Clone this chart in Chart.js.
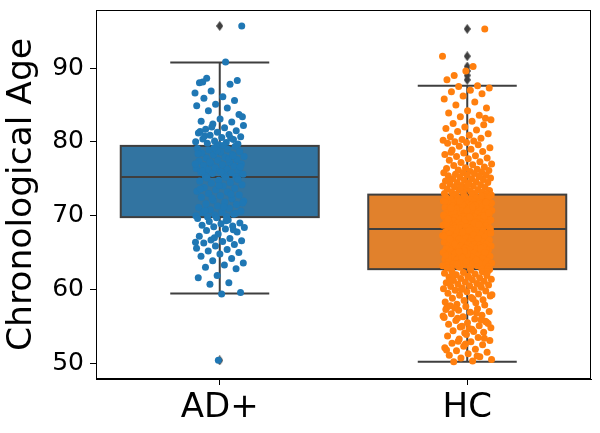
<!DOCTYPE html>
<html>
<head>
<meta charset="utf-8">
<script src="https://cdn.jsdelivr.net/npm/chart.js@4.4.1/dist/chart.umd.min.js"></script>
<style>
  html, body { margin: 0; padding: 0; background: #fff; }
  #wrap { width: 600px; height: 433px; }
</style>
</head>
<body>
<div id="wrap"><canvas id="myChart" width="600" height="433"></canvas></div>
<script>
'use strict';

var categories = ['AD+', 'HC'];
var yTicks = [50, 60, 70, 80, 90];

// box stats
var q1 = [69.8, 62.75];
var median = [75.25, 68.2];
var q3 = [79.45, 72.85];
var whiskerLow = [59.45, 50.2];
var whiskerHigh = [90.75, 87.6];
var adFliers = [95.7, 50.4];
var hcFliers = [95.3, 91.6, 90.2, 89.6, 89.0, 88.4];

// individual ages (strip points)
var adValues = [
  86.6, 90.8, 88.6, 88.3, 50.4, 88.0, 87.8, 86.9, 95.7, 86.1, 85.9, 85.6, 85.1, 84.9, 84.6,
  84.2, 83.7, 83.1, 82.8, 82.7, 82.4, 82.2, 81.9, 81.7, 81.5, 81.3, 81.2, 81.0, 80.9, 80.7,
  80.6, 80.4, 80.3, 80.1, 80.0, 79.9, 79.8, 79.7, 79.6, 81.4, 80.5, 82.0, 83.4, 79.5, 80.8,
  79.4, 79.3, 79.1, 79.0, 78.9, 78.7, 78.6, 78.5, 78.3, 78.2, 78.0, 77.9, 77.8, 77.6, 77.5,
  77.4, 77.2, 77.1, 77.0, 76.9, 76.8, 76.7, 76.5, 76.4, 76.3, 76.2, 76.1, 76.0, 75.9, 75.8,
  75.7, 75.6, 75.5, 75.4, 75.3, 78.8, 78.4, 77.7, 77.3, 76.6, 75.9, 76.0, 78.1, 79.2, 77.0,
  75.2, 75.1, 75.0, 74.8, 74.7, 74.5, 74.4, 74.2, 74.0, 73.8, 73.7, 73.5, 73.3, 73.2, 73.0,
  72.8, 72.7, 72.5, 72.3, 72.1, 72.0, 71.8, 71.6, 71.5, 71.3, 71.1, 71.0, 70.8, 70.6, 70.5,
  70.4, 70.2, 70.1, 70.0, 69.9, 69.8, 74.9, 74.1, 73.6, 72.9, 72.4, 71.7, 71.2, 70.7, 70.3,
  69.7, 69.6, 69.4, 69.2, 69.0, 68.9, 68.7, 68.6, 68.5, 68.4, 68.2, 68.0, 67.8, 67.5, 67.2,
  66.9, 66.7, 66.6, 66.5, 66.3, 66.1, 65.9, 65.6, 65.4, 65.2, 65.0, 64.8, 64.5, 64.2, 63.9,
  63.6, 63.3, 63.0, 62.8, 61.9, 61.6, 60.9, 60.7, 59.6, 59.4, 88.1, 68.1, 67.0, 66.4, 69.3
];

var hcValues = [
  91.6, 90.2, 89.0, 95.3, 89.6, 88.4,
  87.6, 87.5, 87.3, 87.0, 86.8, 86.5, 86.2, 85.8, 85.4, 85.0, 84.6, 84.2,
  83.9, 83.6, 83.4, 83.0, 82.8, 82.5, 82.3, 82.0, 81.8, 81.6, 81.4, 81.1, 80.9, 80.7, 80.5,
  80.3, 80.2, 80.1, 80.0, 83.2,
  79.9, 79.8, 79.6, 79.4, 79.2, 79.0, 78.9, 78.7, 78.5, 78.3, 78.1, 78.0, 77.8, 77.7, 77.5,
  77.3, 77.2, 77.0, 76.9, 76.8, 76.6, 76.5, 76.4, 76.3, 76.2, 76.1, 76.0, 78.6,
  75.9, 75.8, 75.8, 75.7, 75.6, 75.5, 75.5, 75.4, 75.3, 75.2, 75.1, 75.0, 75.0, 74.9, 74.8,
  74.7, 74.6, 74.5, 74.5, 74.4, 74.3, 74.2, 74.1, 74.0, 74.0, 73.9, 73.8, 73.7, 73.6, 73.5,
  73.5, 73.4, 73.3, 73.2, 73.2, 73.1, 73.0, 73.0, 72.9, 72.9, 74.2, 74.7, 75.3, 73.8,
  72.8, 72.8, 72.7, 72.6, 72.6, 72.5, 72.4, 72.4, 72.3, 72.2,
  72.2, 72.1, 72.0, 72.0, 71.9, 71.8, 71.8, 71.7, 71.6, 71.6,
  71.5, 71.5, 71.4, 71.3, 71.3, 71.2, 71.1, 71.1, 71.0, 71.0,
  70.9, 70.8, 70.8, 70.7, 70.7, 70.6, 70.5, 70.5, 70.4, 70.4,
  70.3, 70.2, 70.2, 70.1, 70.1, 70.0, 69.9, 69.9, 69.8, 69.8,
  69.7, 69.7, 69.6, 69.5, 69.5, 69.4, 69.4, 69.3, 69.3, 69.2,
  69.1, 69.1, 69.0, 69.0, 68.9, 68.9, 68.8, 68.8, 68.7, 68.7,
  68.6, 68.6, 68.5, 68.5, 68.4, 68.4, 68.3, 68.3, 68.2, 68.2,
  72.5, 71.9, 71.4, 70.9, 70.3, 69.6, 69.2, 68.6, 72.1, 71.7,
  71.2, 70.6, 70.0, 69.4, 68.9, 68.4, 72.3, 70.4, 69.8, 71.0,
  72.7, 71.5, 70.1, 69.0, 68.3, 71.8, 70.7, 69.5, 68.8, 72.0,
  68.1, 68.1, 68.0, 67.9, 67.9, 67.8, 67.7, 67.7, 67.6, 67.5,
  67.5, 67.4, 67.3, 67.3, 67.2, 67.1, 67.1, 67.0, 66.9, 66.9,
  66.8, 66.7, 66.7, 66.6, 66.5, 66.5, 66.4, 66.3, 66.3, 66.2,
  66.1, 66.1, 66.0, 65.9, 65.9, 65.8, 65.7, 65.7, 65.6, 65.5,
  65.5, 65.4, 65.3, 65.3, 65.2, 65.1, 65.1, 65.0, 64.9, 64.9,
  64.8, 64.7, 64.7, 64.6, 64.5, 64.5, 64.4, 64.3, 64.3, 64.2,
  64.1, 64.1, 64.0, 63.9, 63.9, 63.8, 63.7, 63.7, 63.6, 63.5,
  63.5, 63.4, 63.3, 63.3, 63.2, 63.1, 63.1, 63.0, 62.9, 62.8,
  67.8, 67.2, 66.6, 66.0, 65.4, 64.8, 64.2, 63.6, 63.0, 67.6,
  67.0, 66.4, 65.8, 65.2, 64.6, 64.0, 63.4, 62.8, 68.0, 66.8,
  65.6, 64.4, 63.2, 67.4, 66.2, 65.0, 63.8, 62.9, 66.9, 65.1,
  62.7, 62.6, 62.5, 62.4, 62.3, 62.2, 62.1, 62.0, 61.9, 61.8,
  61.7, 61.6, 61.5, 61.4, 61.3, 61.2, 61.1, 61.0, 60.9, 60.8,
  60.7, 60.6, 60.5, 60.4, 60.3, 60.2, 60.1, 60.0, 59.9, 59.8,
  59.7, 59.5, 59.4, 59.2, 59.1, 58.9, 58.8, 58.6, 58.5, 58.3,
  58.2, 58.0, 62.4, 61.7, 61.1, 60.6, 60.0, 59.3, 58.7, 62.0,
  57.9, 57.7, 57.6, 57.4, 57.2, 57.0, 56.9, 56.7, 56.5, 56.3,
  56.2, 56.0, 55.8, 55.6, 55.5, 55.3, 55.1, 54.9, 54.8, 54.6,
  54.4, 54.2, 54.1, 57.3, 56.8, 56.1, 55.4, 54.7, 57.8, 55.9,
  55.0, 56.4, 54.3, 57.5, 55.7,
  53.9, 53.7, 53.5, 53.3, 53.1, 52.9, 52.7, 52.5, 52.3, 52.1,
  51.9, 51.7, 51.5, 51.3, 51.1, 50.9, 50.7, 50.5, 50.3, 50.2,
  53.4, 52.6, 51.8, 51.0, 53.0
];

var boxColors = ['#3274a1', '#e1812c'];
var pointColors = ['#1f77b4', '#ff7f0e'];
var lineColor = '#3f3f3f';

// spread points sideways (deterministic, +-0.1 category width)
function strip(values, pos) {
  return values.map(function(v, i) {
    var j = ((i * 0.6180339887) % 1 - 0.5) * 0.2;
    return { x: pos + j, y: v };
  });
}
function center(values, pos) {
  return values.map(function(v) { return { x: pos, y: v }; });
}

// thin diamond like matplotlib 'd'
var diamond = document.createElement('canvas');
diamond.width = 7;
diamond.height = 10;
(function() {
  var c = diamond.getContext('2d');
  c.fillStyle = lineColor;
  c.beginPath();
  c.moveTo(3.5, 0);
  c.lineTo(7, 5);
  c.lineTo(3.5, 10);
  c.lineTo(0, 5);
  c.closePath();
  c.fill();
})();

var boxPlugin = {
  id: 'boxes',
  beforeDatasetsDraw: function(chart) {
    var ctx = chart.ctx, xs = chart.scales.x, ys = chart.scales.y;
    var area = chart.chartArea;
    ctx.save();
    ctx.beginPath();
    ctx.rect(area.left, area.top, area.right - area.left, area.bottom - area.top);
    ctx.clip();
    ctx.lineWidth = 2;
    ctx.strokeStyle = lineColor;
    for (var i = 0; i < categories.length; i++) {
      var l = xs.getPixelForValue(i - 0.4), r = xs.getPixelForValue(i + 0.4);
      var c = xs.getPixelForValue(i);
      var cl = xs.getPixelForValue(i - 0.2), cr = xs.getPixelForValue(i + 0.2);
      var top = ys.getPixelForValue(q3[i]), bot = ys.getPixelForValue(q1[i]);
      ctx.fillStyle = boxColors[i];
      ctx.fillRect(l, top, r - l, bot - top);
      ctx.strokeRect(l, top, r - l, bot - top);
      var m = ys.getPixelForValue(median[i]);
      var wh = ys.getPixelForValue(whiskerHigh[i]), wl = ys.getPixelForValue(whiskerLow[i]);
      ctx.beginPath();
      ctx.moveTo(l, m); ctx.lineTo(r, m);
      ctx.moveTo(c, top); ctx.lineTo(c, wh);
      ctx.moveTo(c, bot); ctx.lineTo(c, wl);
      ctx.moveTo(cl, wh); ctx.lineTo(cr, wh);
      ctx.moveTo(cl, wl); ctx.lineTo(cr, wl);
      ctx.stroke();
    }
    ctx.restore();
  },
  afterDraw: function(chart) {
    var ctx = chart.ctx, a = chart.chartArea;
    ctx.save();
    ctx.strokeStyle = '#000';
    ctx.lineWidth = 1;
    ctx.strokeRect(Math.round(a.left) + 0.5, Math.round(a.top) + 0.5,
      Math.round(a.right - a.left) - 1, Math.round(a.bottom - a.top) - 1);
    ctx.restore();
  }
};

var ctx = document.getElementById('myChart');
var myChart = new Chart(ctx, {
  type: 'scatter',
  data: {
    datasets: [
      { data: strip(adValues, 0), backgroundColor: pointColors[0], pointRadius: 3.5, borderWidth: 0, order: 0 },
      { data: strip(hcValues, 1), backgroundColor: pointColors[1], pointRadius: 3.5, borderWidth: 0, order: 0 },
      { data: center(adFliers, 0), pointStyle: diamond, pointRadius: 5, order: 1 },
      { data: center(hcFliers, 1), pointStyle: diamond, pointRadius: 5, order: 1 }
    ]
  },
  options: {
    responsive: false,
    animation: false,
    devicePixelRatio: 1,
    layout: { padding: { left: 0, right: 9, top: 10, bottom: 0 } },
    plugins: { legend: { display: false }, tooltip: { enabled: false } },
    scales: {
      x: {
        type: 'linear',
        min: -0.5,
        max: 1.5,
        afterBuildTicks: function(scale) {
          scale.ticks = categories.map(function(c, i) { return { value: i }; });
        },
        afterFit: function(scale) {
          scale.height = 54;
          scale.paddingLeft = 0;
          scale.paddingRight = 0;
        },
        ticks: {
          color: '#000',
          padding: 3,
          font: { family: 'DejaVu Sans', size: 34 },
          callback: function(v) { return categories[v]; }
        },
        grid: { display: true, drawOnChartArea: false, tickLength: 6, color: '#000' },
        border: { display: true, color: '#000' }
      },
      y: {
        min: 47.87,
        max: 97.86,
        afterBuildTicks: function(scale) {
          scale.ticks = yTicks.map(function(v) { return { value: v }; });
        },
        afterFit: function(scale) {
          scale.width = 96;
          scale.paddingTop = 0;
          scale.paddingBottom = 0;
        },
        ticks: {
          color: '#000',
          padding: 6,
          font: { family: 'DejaVu Sans', size: 25 }
        },
        grid: { display: true, drawOnChartArea: false, tickLength: 6, color: '#000' },
        border: { display: true, color: '#000' },
        title: {
          display: true,
          text: 'Chronological Age',
          color: '#000',
          padding: { top: 1, bottom: 0 },
          font: { family: 'DejaVu Sans', size: 34.5 }
        }
      }
    }
  },
  plugins: [boxPlugin]
});
</script>
</body>
</html>
